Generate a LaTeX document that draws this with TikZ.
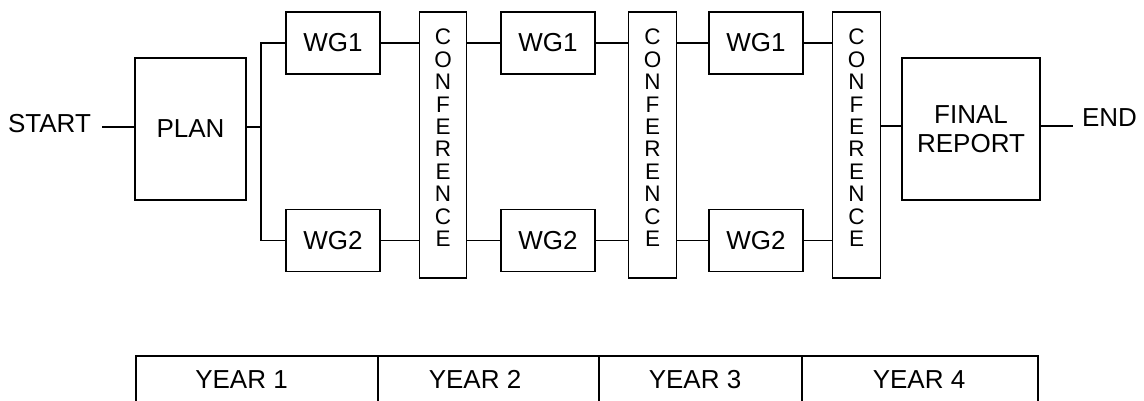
\documentclass[tikz,border=0pt]{standalone}
\usepackage{fontspec}
\setmainfont{Liberation Sans}
\begin{document}
\begin{tikzpicture}[x=1pt,y=-1pt,
  every node/.style={font=\fontsize{26}{29}\selectfont, inner sep=0pt},
  box/.style={draw, line width=1.2pt, minimum width=94pt, minimum height=62pt},
  bigbox/.style={draw, line width=1.2pt, minimum height=142pt, align=center},
  confbox/.style={draw, line width=1.2pt, minimum width=47.5pt, minimum height=266pt, align=center,
    font=\fontsize{22.5}{22.4}\selectfont},
  conn/.style={line width=1.2pt},
  lbl/.style={anchor=base}]
\useasboundingbox (0,0) rectangle (1144,401);

% nodes
\node[lbl] (start) at (49.5,133) {START};
\node[bigbox, minimum width=111pt] (plan) at (190.5,129) {PLAN};
\node[box] (wg1a) at (333,43) {WG1};
\node[box] (wg2a) at (333,240.5) {WG2};
\node[confbox] (conf1) at (443,145) {C\\O\\N\\F\\E\\R\\E\\N\\C\\E\\[-8pt]};
\node[box] (wg1b) at (548,43) {WG1};
\node[box] (wg2b) at (548,240.5) {WG2};
\node[confbox] (conf2) at (652.5,145) {C\\O\\N\\F\\E\\R\\E\\N\\C\\E\\[-8pt]};
\node[box] (wg1c) at (756,43) {WG1};
\node[box] (wg2c) at (756,240.5) {WG2};
\node[confbox] (conf3) at (856.5,145) {C\\O\\N\\F\\E\\R\\E\\N\\C\\E\\[-8pt]};
\node[bigbox, minimum width=138pt] (final) at (971,129) {FINAL\\REPORT};
\node[lbl] (endn) at (1109.5,127) {END};

% connectors
\coordinate (s0) at (102,127);
\coordinate (split) at (261,127);
\draw[conn] (s0) -- (s0 -| plan.west);
\draw[conn] (plan.east |- split) -- (split);
\draw[conn] (wg1a.west) -| (split) |- (wg2a.west);
\draw[conn] (wg1a.east) -- (wg1a.east -| conf1.west);
\draw[conn] (wg2a.east) -- (wg2a.east -| conf1.west);
\draw[conn] (wg1b.west -| conf1.east) -- (wg1b.west);
\draw[conn] (wg2b.west -| conf1.east) -- (wg2b.west);
\draw[conn] (wg1b.east) -- (wg1b.east -| conf2.west);
\draw[conn] (wg2b.east) -- (wg2b.east -| conf2.west);
\draw[conn] (wg1c.west -| conf2.east) -- (wg1c.west);
\draw[conn] (wg2c.west -| conf2.east) -- (wg2c.west);
\draw[conn] (wg1c.east) -- (wg1c.east -| conf3.west);
\draw[conn] (wg2c.east) -- (wg2c.east -| conf3.west);
\coordinate (f0) at (880,126);
\draw[conn] (f0 -| conf3.east) -- (f0 -| final.west);
\coordinate (e0) at (1073,126);
\draw[conn] (e0 -| final.east) -- (e0);

% year table
\draw[conn] (136,401) -- (136,356) -- (1038,356) -- (1038,401);
\draw[conn] (378,356) -- (378,401);
\draw[conn] (599,356) -- (599,401);
\draw[conn] (802,356) -- (802,401);
\node[lbl] (y1) at (241.5,388) {YEAR 1};
\node[lbl] (y2) at (475,388) {YEAR 2};
\node[lbl] (y3) at (695,388) {YEAR 3};
\node[lbl] (y4) at (919,388) {YEAR 4};
\end{tikzpicture}
\end{document}
